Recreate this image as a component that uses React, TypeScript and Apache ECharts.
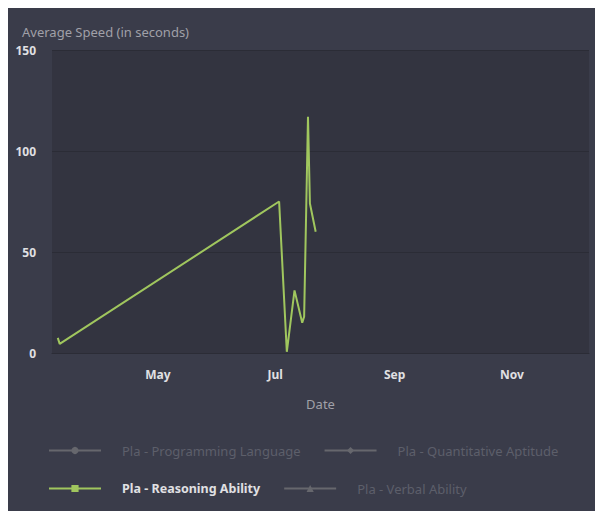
import React, { useEffect, useRef } from "react";
import * as echarts from "echarts";

const seriesNames = [
  "Pla - Programming Language",
  "Pla - Quantitative Aptitude",
  "Pla - Reasoning Ability",
  "Pla - Verbal Ability",
];
const seriesSymbols = ["circle", "diamond", "rect", "triangle"];
const seriesActive = [false, false, true, false];

// Reasoning Ability points: [year, monthIndex, day]
const reasoningDates: [number, number, number][] = [
  [2015, 2, 10],
  [2015, 2, 11],
  [2015, 6, 3],
  [2015, 6, 7],
  [2015, 6, 11],
  [2015, 6, 15],
  [2015, 6, 16],
  [2015, 6, 18],
  [2015, 6, 19],
  [2015, 6, 22],
];
const reasoningValues = [7.5, 4.5, 75, 0.6, 31, 15, 18, 117, 74, 60];

const xMinDate: [number, number, number] = [2015, 2, 7];
const xMaxDate: [number, number, number] = [2015, 11, 11];
const monthLabels: Record<number, string> = { 4: "May", 6: "Jul", 8: "Sep", 10: "Nov" };
const yTicks = { min: 0, max: 150, interval: 50 };

const ts = (d: [number, number, number]) => new Date(d[0], d[1], d[2]).getTime();

export default function App() {
  const ref = useRef<HTMLDivElement>(null);
  useEffect(() => {
    if (!ref.current) return;
    const chart = echarts.init(ref.current, undefined, { renderer: "svg" });
    const font = "'Noto Sans', sans-serif";
    const gridColor = "#2b2c36";
    const inactiveText = "#5d5f6a";
    const inactiveIcon = "#66676d";
    const green = "#a0c65e";
    const colors = seriesActive.map((a) => (a ? green : inactiveIcon));

    const reasoning = reasoningDates.map((d, i) => [ts(d), reasoningValues[i]]);
    const dataBySeries = [[], [], reasoning, []];

    const legendItem = (i: number) => ({
      name: seriesNames[i],
      textStyle: seriesActive[i]
        ? { color: "#e0e0e3", fontWeight: "bold", fontSize: 12.5 }
        : { color: inactiveText, fontWeight: "normal" },
    });

    const legendCommon = {
      orient: "horizontal" as const,
      left: 40,
      padding: 0,
      itemWidth: 52,
      itemHeight: 9,
      itemGap: 23,
      textStyle: {
        color: "#e0e0e3",
        fontFamily: font,
        fontSize: 13,
        padding: [0, 0, 0, 16],
      },
    };

    chart.setOption({
      animation: false,
      backgroundColor: "#3a3c4a",
      textStyle: { fontFamily: font },
      grid: {
        left: 44,
        right: 14,
        top: 42,
        bottom: 158,
        show: true,
        backgroundColor: "#333440",
        borderWidth: 0,
      },
      legend: [
        { ...legendCommon, top: 436, data: [legendItem(0), legendItem(1)] },
        { ...legendCommon, top: 474, data: [legendItem(2), legendItem(3)] },
      ],
      xAxis: {
        type: "time",
        min: ts(xMinDate),
        max: ts(xMaxDate),
        minInterval: 28 * 86400000,
        maxInterval: 31 * 86400000,
        name: "Date",
        nameLocation: "middle",
        nameGap: 44,
        nameTextStyle: { color: "#a0a0a8", fontSize: 13, fontFamily: font },
        axisLine: { show: true, lineStyle: { color: gridColor, width: 1 } },
        axisTick: { show: false },
        splitLine: { show: false },
        axisLabel: {
          interval: 0,
          color: "#e0e0e3",
          fontWeight: "bold",
          fontSize: 12,
          margin: 15,
          hideOverlap: false,
          formatter: (v: number) => {
            const d = new Date(v);
            if (d.getDate() !== 1 || d.getHours() !== 0) return "";
            return monthLabels[d.getMonth()] || "";
          },
        },
      },
      yAxis: {
        type: "value",
        min: yTicks.min,
        max: yTicks.max,
        interval: yTicks.interval,
        name: "Average Speed (in seconds)",
        nameLocation: "end",
        nameGap: 12,
        nameTextStyle: {
          color: "#a0a0a8",
          fontSize: 13,
          fontFamily: font,
          align: "left",
          padding: [0, 0, 0, -30],
        },
        axisLine: { show: false },
        axisTick: { show: false },
        splitLine: { show: true, lineStyle: { color: gridColor, width: 1 } },
        axisLabel: {
          color: "#e0e0e3",
          fontWeight: "bold",
          fontSize: 12,
          margin: 16,
          formatter: (v: number) => String(v),
        },
      },
      series: seriesNames.map((name, i) => ({
        name,
        type: "line",
        data: dataBySeries[i],
        symbol: seriesSymbols[i],
        symbolSize: 8,
        showSymbol: false,
        color: colors[i],
        lineStyle: { width: 2, color: colors[i] },
        itemStyle: { color: colors[i] },
      })),
    });
    return () => chart.dispose();
  }, []);
  return <div ref={ref} style={{ width: 595, height: 503 }} />;
}
